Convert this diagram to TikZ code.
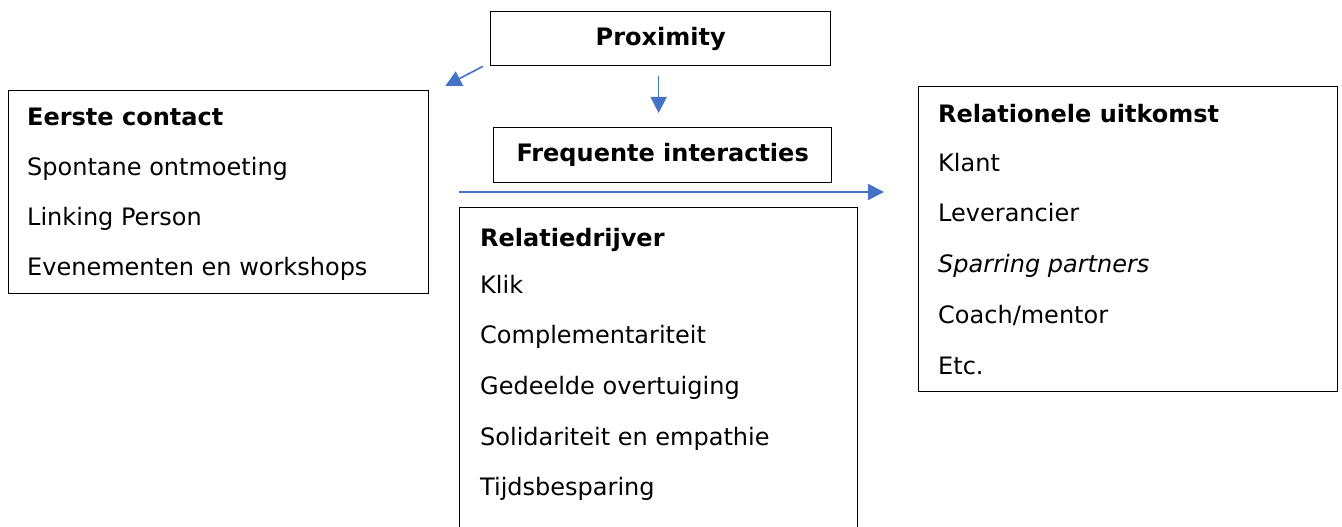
\documentclass[tikz,border=0pt]{standalone}
\usepackage{fontspec}
\setmainfont{DejaVu Sans}
\usetikzlibrary{arrows.meta,positioning}

\begin{document}
\begin{tikzpicture}[x=1pt, y=-1pt,
	box/.style={draw, line width=1.3pt, inner sep=0, anchor=north west},
	txt/.style={font=\fontsize{24}{28}\selectfont, anchor=base west, inner sep=0},
	head/.style={txt, font=\fontsize{24}{28}\selectfont\bfseries},
	arr/.style={-{Triangle[length=16pt, width=16pt]}, draw={rgb,255:red,68;green,114;blue,196}, line width=1.6pt}
]
\clip (0,0) rectangle (1342,527);

% boxes
\node[box, minimum width=340, minimum height=54] (prox) at (490,11) {};
\node[box, minimum width=338, minimum height=55] (freq) at (493,127) {};
\node[box, minimum width=420, minimum height=203] (eerste) at (8,90) {};
\node[box, minimum width=398, minimum height=360] (drijver) at (459,207) {};
\node[box, minimum width=419, minimum height=305] (uitkomst) at (918,86) {};

\node[font=\fontsize{24}{28}\selectfont\bfseries] (proxtxt) at (prox.center) {Proximity};
\node[font=\fontsize{24}{28}\selectfont\bfseries] (freqtxt) at (freq.center) {Frequente interacties};

% eerste contact
\node[head] (e0) at (27,125) {Eerste contact};
\node[txt] (e1) at (27,175) {Spontane ontmoeting};
\node[txt] (e2) at (27,225) {Linking Person};
\node[txt] (e3) at (27,275) {Evenementen en workshops};

% relatiedrijver
\node[head] (r0) at (480,246) {Relatiedrijver};
\node[txt] (r1) at (480,293) {Klik};
\node[txt] (r2) at (480,343) {Complementariteit};
\node[txt] (r3) at (480,394) {Gedeelde overtuiging};
\node[txt] (r4) at (480,445) {Solidariteit en empathie};
\node[txt] (r5) at (480,495) {Tijdsbesparing};

% relationele uitkomst
\node[head] (u0) at (938,122) {Relationele uitkomst};
\node[txt] (u1) at (938,171) {Klant};
\node[txt] (u2) at (938,221) {Leverancier};
\node[txt] (u3) at (938,272) {\itshape Sparring partners};
\node[txt] (u4) at (938,323) {Coach/mentor};
\node[txt] (u5) at (938,374) {Etc.};

% arrows
\coordinate (d1) at ([xshift=-7pt]prox.south west);
\coordinate (d2) at ([xshift=16pt,yshift=4pt]eerste.north east);
\coordinate (v1) at ([xshift=-2pt,yshift=-10pt]prox.south);
\coordinate (v2) at ([xshift=-4pt,yshift=14pt]freq.north);
\coordinate (h1) at ([yshift=15pt]drijver.north west);
\coordinate (h2) at (884,192);

\draw[arr] (d1) -- (d2);
\draw[arr] (v1) -- (v2);
\draw[arr] (h1) -- (h2);
\end{tikzpicture}
\end{document}
